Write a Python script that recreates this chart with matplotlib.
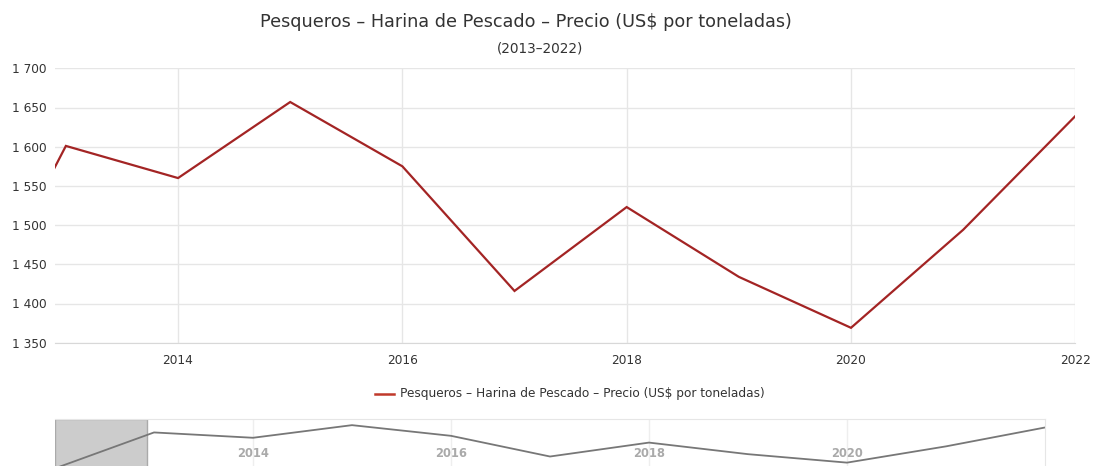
import matplotlib
matplotlib.use("Agg")
import matplotlib.pyplot as plt
from matplotlib.ticker import FuncFormatter, MultipleLocator
import matplotlib.transforms as mtransforms

plt.rcParams['font.family'] = ['DejaVu Sans']

title = "Pesqueros – Harina de Pescado – Precio (US$ por toneladas)"
subtitle = "(2013–2022)"
series_name = "Pesqueros – Harina de Pescado – Precio (US$ por toneladas)"

years = [2012, 2013, 2014, 2015, 2016, 2017, 2018, 2019, 2020, 2021, 2022]
values = [1325, 1601, 1560, 1657, 1575, 1416, 1523, 1434, 1369, 1494, 1639]

main_xticks = [2014, 2016, 2018, 2020, 2022]
nav_xticks = [2014, 2016, 2018, 2020]

W, H = 1094, 466
fig = plt.figure(figsize=(W / 100, H / 100), dpi=100)

def frac(x0, y0, x1, y1):
    return [x0 / W, 1 - y1 / H, (x1 - x0) / W, (y1 - y0) / H]

line_color = '#a32424'
grid_color = '#e6e6e6'

# Main axes
ax = fig.add_axes(frac(55, 68.3, 1075.3, 342.7))
ax.plot(years, values, color=line_color, lw=1.6, solid_joinstyle='miter')
ax.set_xlim(2012.903, 2022)
ax.set_ylim(1350, 1700)
ax.yaxis.set_major_locator(MultipleLocator(50))
ax.set_xticks(main_xticks)
ax.yaxis.set_major_formatter(FuncFormatter(lambda v, p: f"{int(v):,}".replace(",", " ")))
ax.grid(True, color=grid_color, lw=1)
ax.set_axisbelow(True)
for s in ['top', 'left', 'right']:
    ax.spines[s].set_visible(False)
ax.spines['bottom'].set_color('#d8d8d8')
ax.tick_params(axis='both', length=0, labelsize=8.7, colors='#333333')
ax.tick_params(axis='x', pad=8)
ax.tick_params(axis='y', pad=6)

fig.text(526 / W, 1 - 22 / H, title, ha='center', va='center', fontsize=12.7, color='#333333')
fig.text(540 / W, 1 - 49 / H, subtitle, ha='center', va='center', fontsize=9.8, color='#333333')

# Legend
fig.lines.append(plt.Line2D([375 / W, 394 / W], [1 - 394 / H, 1 - 394 / H], transform=fig.transFigure,
                            color='#c0392b', lw=1.8))
fig.text(400 / W, 1 - 394 / H, series_name, ha='left', va='center', fontsize=8.75, color='#333333')

# Navigator
nav = fig.add_axes(frac(55, 419.3, 1045, 469))
nav.plot(years, values, color='#777777', lw=1.3)
nav.set_xlim(2012, 2022)
nav.set_ylim(1320, 1702)
nav.axvspan(2012, 2012.93, facecolor='#cccccc', edgecolor='#aaaaaa', lw=1, zorder=0)
for t in nav_xticks:
    nav.axvline(t, color='#eeeeee', lw=1, zorder=-1)
trans = mtransforms.blended_transform_factory(nav.transData, nav.transAxes)
for t in nav_xticks:
    nav.text(t, 0.32, str(t), transform=trans, ha='center', va='center',
             fontsize=8.3, color='#aaaaaa', fontweight='bold')
nav.set_xticks([])
nav.set_yticks([])
for s in ['left', 'bottom']:
    nav.spines[s].set_visible(False)
nav.spines['top'].set_color('#e6e6e6')
nav.spines['right'].set_color('#e6e6e6')

fig.savefig('out.png', dpi=100)
